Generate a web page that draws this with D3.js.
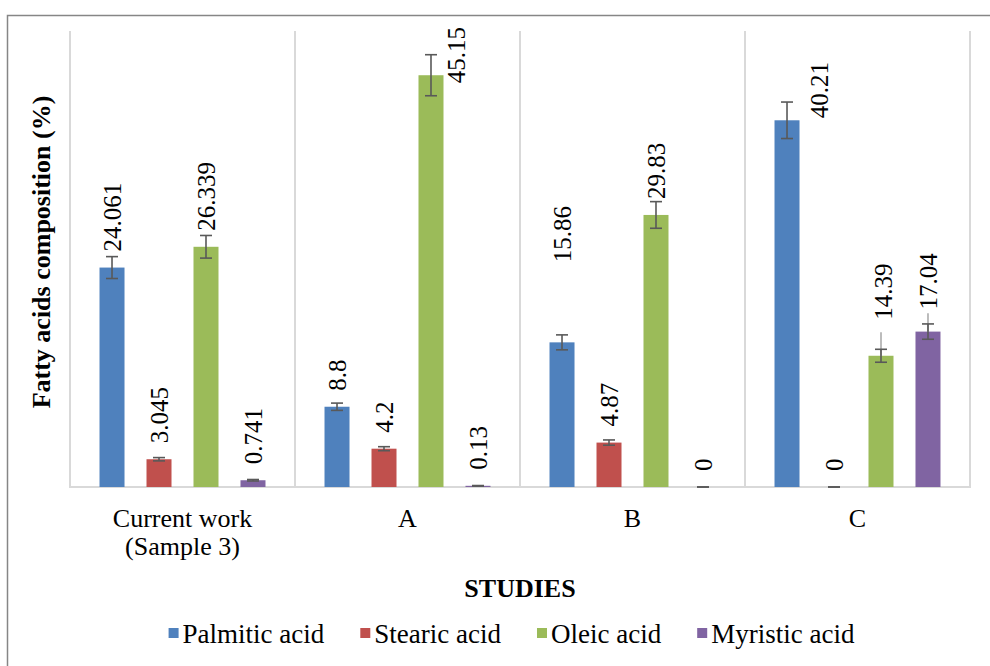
<!DOCTYPE html>
<html>
<head>
<meta charset="utf-8">
<script src="https://cdn.jsdelivr.net/npm/d3@7"></script>
<style>
  html, body { margin: 0; padding: 0; background: #fff; }
</style>
</head>
<body>
<svg id="chart" width="990" height="666"></svg>
<script>
'use strict';

// studies on the x axis (first one wraps to two lines)
var studies = ['Current work|(Sample 3)', 'A', 'B', 'C'];
var acids = ['Palmitic acid', 'Stearic acid', 'Oleic acid', 'Myristic acid'];
var colors = ['#4f81bd', '#c0504d', '#9bbb59', '#8064a2'];

// values per acid, one per study
var palmitic = [24.061, 8.8, 15.86, 40.21];
var stearic = [3.045, 4.2, 4.87, 0];
var oleic = [26.339, 45.15, 29.83, 14.39];
var myristic = [0.741, 0.13, 0, 17.04];

// error bar half widths
var palmiticErr = [1.2, 0.4, 0.82, 2.0];
var stearicErr = [0.18, 0.22, 0.29, 0];
var oleicErr = [1.24, 2.25, 1.46, 0.71];
var myristicErr = [0.08, 0.03, 0, 0.84];

// study C has a second, lighter upper whisker on oleic and myristic
var oleicUpper = [0, 0, 0, 2.58];
var myristicUpper = [0, 0, 0, 2.0];

var yTicks = [0, 50];

var values = [palmitic, stearic, oleic, myristic];
var errs = [palmiticErr, stearicErr, oleicErr, myristicErr];
var uppers = [[0, 0, 0, 0], [0, 0, 0, 0], oleicUpper, myristicUpper];

// a few labels were dragged by hand in the original
var labelNudge = {
  'B|0': [0, -64],
  'C|0': [32, 14],
  'A|2': [25, 24],
  'C|2': [2, -20],
  'C|3': [0, -6]
};

var FONT = '"Liberation Serif", "Times New Roman", Times, serif';

var svg = d3.select('#chart').style('font-family', FONT);
var plotLeft = 70, plotRight = 970, plotTop = 31, plotBottom = 487;

svg.append('rect')
  .attr('x', 7.5).attr('y', 15.5)
  .attr('width', 1000).attr('height', 700)
  .attr('fill', '#fff')
  .attr('stroke', '#868686')
  .attr('stroke-width', 1.5);

var x = d3.scaleBand().domain(studies).range([plotLeft, plotRight]);
var xs = d3.scaleBand().domain(acids).range([0, x.bandwidth()])
  .paddingInner(0.468).paddingOuter(0.628);
var y = d3.scaleLinear().domain(d3.extent(yTicks)).range([plotBottom, plotTop]);

// vertical separators between studies
var seps = studies.map(function (s) { return x(s); }).concat([plotRight]);
svg.append('g').selectAll('line').data(seps).join('line')
  .attr('x1', function (d) { return d; })
  .attr('x2', function (d) { return d; })
  .attr('y1', plotTop).attr('y2', plotBottom)
  .attr('stroke', '#d9d9d9').attr('stroke-width', 2);

svg.append('line')
  .attr('x1', plotLeft - 1).attr('x2', plotRight + 1)
  .attr('y1', plotBottom).attr('y2', plotBottom)
  .attr('stroke', '#d9d9d9').attr('stroke-width', 2);

var points = [];
studies.forEach(function (s, si) {
  acids.forEach(function (a, ai) {
    points.push({
      study: s, key: s.split('|')[0], si: si, ai: ai,
      v: values[ai][si], e: errs[ai][si], up: uppers[ai][si]
    });
  });
});

function cx(d) { return x(d.study) + xs(acids[d.ai]) + xs.bandwidth() / 2; }

svg.append('g').selectAll('rect').data(points).join('rect')
  .attr('x', function (d) { return x(d.study) + xs(acids[d.ai]); })
  .attr('width', xs.bandwidth())
  .attr('y', function (d) { return y(d.v); })
  .attr('height', function (d) { return y(0) - y(d.v); })
  .attr('fill', function (d) { return colors[d.ai]; });

// light extra whiskers
svg.append('g').selectAll('line').data(points.filter(function (d) { return d.up > 0; })).join('line')
  .attr('x1', cx).attr('x2', cx)
  .attr('y1', function (d) { return y(d.v); })
  .attr('y2', function (d) { return y(d.v + d.up); })
  .attr('stroke', '#a6a6a6').attr('stroke-width', 1.5);

var eb = svg.append('g').attr('stroke', '#595959').attr('stroke-width', 1.6);
points.forEach(function (d) {
  var c = cx(d), hi = y(d.v + d.e), lo = y(d.v - d.e), w = 6;
  eb.append('line').attr('x1', c).attr('x2', c).attr('y1', hi).attr('y2', lo);
  eb.append('line').attr('x1', c - w).attr('x2', c + w).attr('y1', hi).attr('y2', hi);
  eb.append('line').attr('x1', c - w).attr('x2', c + w).attr('y1', lo).attr('y2', lo);
});

// rotated value labels
svg.append('g').selectAll('text').data(points).join('text')
  .attr('transform', function (d) {
    var n = labelNudge[d.key + '|' + d.ai] || [0, 0];
    return 'translate(' + (cx(d) + n[0]) + ',' + (y(d.v) - 16 + n[1]) + ') rotate(-90)';
  })
  .attr('dy', '0.35em')
  .attr('font-family', FONT)
  .attr('font-size', 25)
  .text(function (d) { return String(d.v); });

// category labels
var cat = svg.append('g').selectAll('text').data(studies).join('text')
  .attr('x', function (d) { return x(d) + x.bandwidth() / 2; })
  .attr('y', 527)
  .attr('text-anchor', 'middle')
  .attr('font-family', FONT)
  .attr('font-size', 26);
cat.selectAll('tspan').data(function (d) { return d.split('|'); }).join('tspan')
  .attr('x', function () { var p = this.parentNode.__data__; return x(p) + x.bandwidth() / 2; })
  .attr('dy', function (d, i) { return i ? 28 : 0; })
  .text(function (d) { return d; });

svg.append('text')
  .attr('x', (plotLeft + plotRight) / 2).attr('y', 597)
  .attr('text-anchor', 'middle')
  .attr('font-family', FONT)
  .attr('font-size', 26).attr('font-weight', 'bold')
  .text('STUDIES');

svg.append('text')
  .attr('transform', 'translate(50,252) rotate(-90)')
  .attr('text-anchor', 'middle')
  .attr('font-family', FONT)
  .attr('font-size', 26).attr('font-weight', 'bold')
  .text('Fatty acids composition (%)');

// legend, laid out from measured text widths
var lg = svg.append('g');
var items = acids.map(function (a, i) {
  var g = lg.append('g');
  g.append('rect').attr('width', 10).attr('height', 10).attr('y', -15).attr('fill', colors[i]);
  var t = g.append('text').attr('x', 14)
    .attr('font-family', FONT).attr('font-size', 27).text(a);
  return { g: g, w: 14 + t.node().getComputedTextLength() };
});
var gap = 36;
var total = d3.sum(items, function (d) { return d.w; }) + gap * (items.length - 1);
var lx = 511.5 - total / 2;
items.forEach(function (it) {
  it.g.attr('transform', 'translate(' + lx + ',643)');
  lx += it.w + gap;
});
</script>
</body>
</html>
